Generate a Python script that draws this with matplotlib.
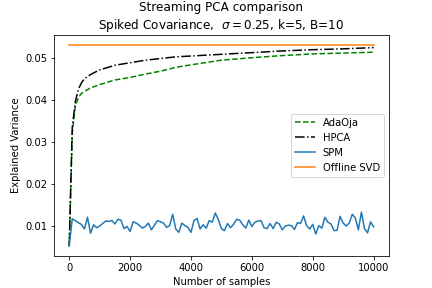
import numpy as np
import matplotlib
matplotlib.use("Agg")
from matplotlib import pyplot as plt

# sample counts where AdaOja / HPCA were recorded
n_curve = [0, 100, 200, 300, 400, 500, 700, 1000, 1500, 2000, 2500, 3000,
           3500, 4000, 5000, 6000, 7000, 8000, 9000, 10000]
adaoja = [0.0052, 0.0320, 0.0385, 0.0405, 0.0415, 0.0420, 0.0428, 0.0436,
          0.0447, 0.0453, 0.0461, 0.0468, 0.0477, 0.0483, 0.0494, 0.0500,
          0.0505, 0.0509, 0.0511, 0.0513]
hpca = [0.0052, 0.0335, 0.0395, 0.0425, 0.0440, 0.0450, 0.0460, 0.0471,
        0.0482, 0.0488, 0.0494, 0.0498, 0.0502, 0.0504, 0.0508, 0.0512,
        0.0516, 0.0519, 0.0521, 0.0524]

# SPM every 100 samples
spm = [0.0053, 0.0117, 0.0113, 0.0108, 0.0104, 0.0093, 0.0121, 0.0083, 0.0103, 0.0096,
       0.0100, 0.0106, 0.0112, 0.0111, 0.0113, 0.0105, 0.0116, 0.0114, 0.0094, 0.0099,
       0.0087, 0.0110, 0.0107, 0.0102, 0.0095, 0.0099, 0.0107, 0.0091, 0.0102, 0.0113,
       0.0110, 0.0107, 0.0097, 0.0101, 0.0128, 0.0093, 0.0085, 0.0107, 0.0101, 0.0097,
       0.0085, 0.0113, 0.0118, 0.0093, 0.0103, 0.0095, 0.0113, 0.0109, 0.0131, 0.0115,
       0.0094, 0.0089, 0.0106, 0.0096, 0.0104, 0.0116, 0.0114, 0.0103, 0.0095, 0.0114,
       0.0099, 0.0109, 0.0112, 0.0113, 0.0096, 0.0094, 0.0106, 0.0094, 0.0109, 0.0105,
       0.0091, 0.0100, 0.0102, 0.0101, 0.0092, 0.0108, 0.0106, 0.0124, 0.0101, 0.0093,
       0.0104, 0.0081, 0.0101, 0.0095, 0.0121, 0.0109, 0.0105, 0.0089, 0.0090, 0.0123,
       0.0107, 0.0100, 0.0107, 0.0128, 0.0119, 0.0091, 0.0133, 0.0094, 0.0084, 0.0110,
       0.0098]
n_spm = np.arange(len(spm)) * 100

offline_svd = 0.0531

fig = plt.figure(figsize=(6, 4), dpi=72)
ax = plt.gca()
ax.plot(n_curve, adaoja, "g--", label="AdaOja")
ax.plot(n_curve, hpca, "k-.", label="HPCA")
ax.plot(n_spm, spm, color="C0", label="SPM")
ax.plot([0, 10000], [offline_svd, offline_svd], color="C1", label="Offline SVD")
plt.title("Streaming PCA comparison\nSpiked Covariance,  $\\sigma=0.25$, k=5, B=10")
plt.xlabel("Number of samples")
plt.ylabel("Explained Variance")
plt.legend(loc="center right")
plt.savefig("out.png")
